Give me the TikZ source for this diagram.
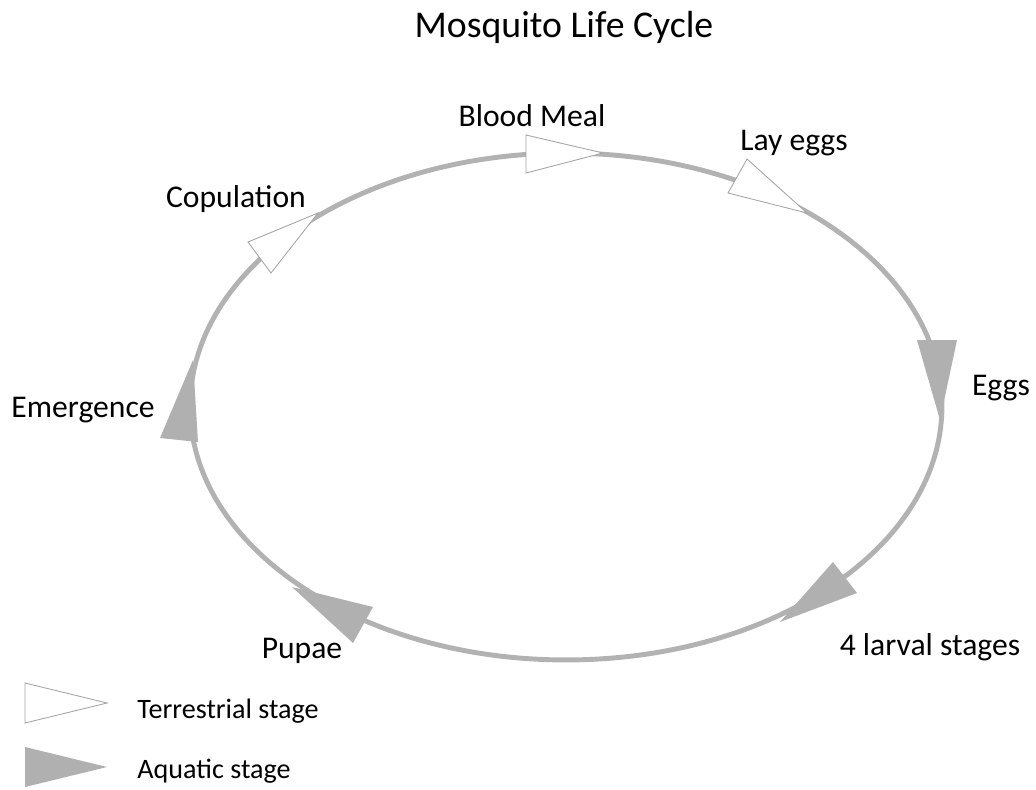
\documentclass[tikz,border=0pt]{standalone}
\usepackage{fontspec}
\setmainfont{Carlito}
\tikzset{
  cycleline/.style={draw=black!30, line width=2.8pt},
  landtri/.style={fill=white, draw=black!35, line width=0.5pt, line join=miter},
  watertri/.style={fill=black!31},
  stagetext/.style={anchor=base, inner sep=0pt, font=\fontsize{18}{21}\selectfont},
  keytext/.style={anchor=base, inner sep=0pt, font=\fontsize{16}{19}\selectfont}
}
\begin{document}
\begin{tikzpicture}[x=0.02cm, y=-0.02cm]
  \useasboundingbox (0,0) rectangle (1036,789);
  % the cycle
  \draw[cycleline] (566,406.5) ellipse [x radius=7.52cm, y radius=5.07cm];
  % terrestrial stages
  \filldraw[landtri] (526,135) -- (603,153) -- (526,173) -- cycle;
  \filldraw[landtri] (747,159) -- (807,213) -- (728,193) -- cycle;
  \filldraw[landtri] (248,242) -- (318,213) -- (271,273) -- cycle;
  % aquatic stages
  \fill[watertri] (917,340) -- (957,340) -- (940,420) -- cycle;
  \fill[watertri] (833,562) -- (857,593) -- (780,622) -- cycle;
  \fill[watertri] (373,607) -- (353,643) -- (292,587) -- cycle;
  \fill[watertri] (160,438) -- (193,360) -- (198,442) -- cycle;
  % labels
  \node[anchor=base, inner sep=0pt, font=\fontsize{21.5}{25}\selectfont] (title) at (564,37) {Mosquito Life Cycle};
  \node[stagetext] (meal) at (532,126) {Blood Meal};
  \node[stagetext] (lay) at (794,150) {Lay eggs};
  \node[stagetext] (copula) at (236,207) {Copulation};
  \node[stagetext] (eggs) at (1001,395) {Eggs};
  \node[stagetext] (emerge) at (83,417) {Emergence};
  \node[stagetext] (pupae) at (302,658) {Pupae};
  \node[stagetext] (larva) at (930,655) {4 larval stages};
  % key
  \filldraw[landtri] (25,683) -- (107,703) -- (25,723) -- cycle;
  \fill[watertri] (25,747) -- (107,767) -- (25,787) -- cycle;
  \node[keytext] (landkey) at (228,718) {Terrestrial stage};
  \node[keytext] (waterkey) at (214,778) {Aquatic stage};
\end{tikzpicture}
\end{document}
